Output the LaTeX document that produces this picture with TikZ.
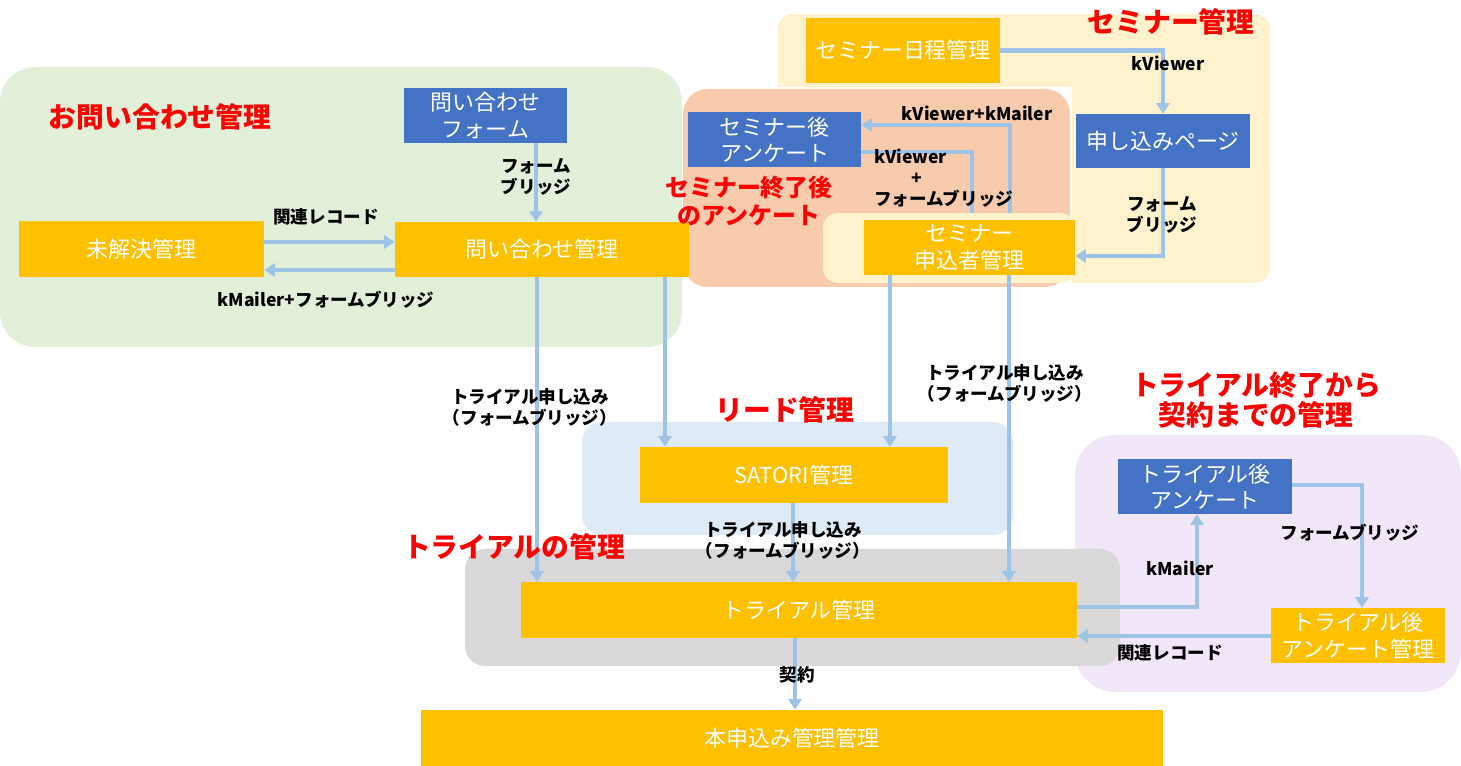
\documentclass[tikz,border=0pt]{standalone}
\usepackage{fontspec}
\setmainfont{Noto Sans CJK JP}
\usetikzlibrary{arrows.meta}

\definecolor{boxorange}{HTML}{FFC000}
\definecolor{boxblue}{HTML}{4472C4}
\definecolor{arrowblue}{HTML}{9DC3E6}
\definecolor{titlered}{HTML}{FF0000}
\definecolor{areagreen}{HTML}{E2F0D9}
\definecolor{areayellow}{HTML}{FFF2CC}
\definecolor{areapeach}{HTML}{F8CBAD}
\definecolor{areablue}{HTML}{DEEBF7}
\definecolor{areagray}{HTML}{D9D9D9}
\definecolor{areaviolet}{HTML}{F2E6F9}

\begin{document}
\begin{tikzpicture}[x=0.02cm, y=-0.02cm, >={Triangle[width=7.5pt,length=6pt]},
    obox/.style={fill=boxorange, text=white, inner sep=0pt, align=center, font=\fontsize{12.5}{15}\selectfont},
    bbox/.style={obox, fill=boxblue},
    lbl/.style={font=\bfseries\fontsize{10}{12}\selectfont, align=center},
    ttl/.style={text=titlered, font=\bfseries\fontsize{15.8}{16}\selectfont, align=center},
    arr/.style={->, line width=2.7pt, draw=arrowblue},
    link/.style={line width=2.7pt, draw=arrowblue}]
      \path[use as bounding box] (0,0) rectangle (1461,766);

      % areas
      \fill[areagreen, rounded corners=0.7cm] (0,67) rectangle (682,347);
      \fill[areayellow, rounded corners=0.3cm] (778,14) rectangle (1270,283);
      \fill[white] (683,87) rectangle (1072,287);
      \fill[areapeach, rounded corners=0.5cm] (683,89) rectangle (1070,287);
      \fill[areablue, rounded corners=0.4cm] (582,422) rectangle (1013,535);
      \fill[areaviolet, rounded corners=0.8cm] (1075,435) rectangle (1461,692);
      \fill[areagray, rounded corners=0.4cm] (465,549) rectangle (1120,666);
      \node[fill=areayellow, rounded corners=0.3cm, inner sep=0pt, minimum width=5.04cm, minimum height=1.4cm] (applzone) at (949,248) {};

      % boxes
      \node[bbox, minimum width=3.26cm, minimum height=1.1cm] (form) at (485.5,115.5) {問い合わせ\\フォーム};
      \node[obox, minimum width=4.9cm, minimum height=1.12cm] (open) at (141.5,249) {未解決管理};
      \node[obox, minimum width=5.88cm, minimum height=1.1cm] (inquiry) at (542,249.5) {問い合わせ管理};
      \node[obox, minimum width=3.88cm, minimum height=1.3cm] (schedule) at (903,50.5) {セミナー日程管理};
      \node[bbox, minimum width=3.48cm, minimum height=1.08cm] (entry) at (1163,141) {申し込みページ};
      \node[bbox, minimum width=3.46cm, minimum height=1.1cm] (survey) at (774.5,139.5) {セミナー後\\アンケート};
      \node[obox, minimum width=4.22cm, minimum height=1.1cm] (applicant) at (969.5,247.5) {セミナー\\申込者管理};
      \node[obox, minimum width=6.16cm, minimum height=1.12cm] (satori) at (794,475) {SATORI管理};
      \node[obox, minimum width=11.12cm, minimum height=1.12cm] (trial) at (799,610) {トライアル管理};
      \node[obox, minimum width=14.84cm, minimum height=1.12cm] (contract) at (792,738) {本申込み管理管理};
      \node[bbox, minimum width=3.48cm, minimum height=1.1cm] (tsurvey) at (1205,486.5) {トライアル後\\アンケート};
      \node[obox, minimum width=3.48cm, minimum height=1.1cm] (tresult) at (1358,635.5) {トライアル後\\アンケート管理};

      % connectors
      \draw[arr] (form.south -| 536,0) -- (inquiry.north -| 536,0);
      \draw[arr] (open.east |- 0,242) -- (inquiry.west |- 0,242);
      \draw[arr] (inquiry.west |- 0,270) -- (open.east |- 0,270);
      \draw[arr] (inquiry.south -| 537,0) -- (trial.north -| 537,0);
      \draw[arr] (inquiry.south -| 665,0) -- (satori.north -| 665,0);
      \draw[arr] (applicant.south -| 890,0) -- (satori.north -| 890,0);
      \draw[arr] (applicant.south -| 1009,0) -- (trial.north -| 1009,0);
      \draw[arr] (satori.south -| 793,0) -- (trial.north -| 793,0);
      \draw[arr] (trial.south -| 795,0) -- (contract.north -| 795,0);
      \draw[arr] (schedule.east) -| (entry.north);
      \draw[arr] (entry.south) |- (applicant.east |- 0,256);
      \draw[arr] (applzone.north -| 1010,0) |- (survey.east |- 0,125);
      \draw[link] (survey.east |- 0,152) -| (applzone.north -| 972,0);
      \draw[arr] (trial.east |- 0,607) -| (tsurvey.south -| 1197,0);
      \draw[arr] (tsurvey.east |- 0,485) -| (tresult.north -| 1362,0);
      \draw[arr] (tresult.west |- 0,636) -- (trial.east |- 0,636);

      % labels
      \node[lbl] (l1) at (536,177) {フォーム\\ブリッジ};
      \node[lbl] (l2) at (326,217) {関連レコード};
      \node[lbl] (l3) at (326,300) {kMailer+フォームブリッジ};
      \node[lbl] (l4) at (1168,63) {kViewer};
      \node[lbl] (l5) at (1162,215) {フォーム\\ブリッジ};
      \node[lbl] (l6) at (977,113) {kViewer+kMailer};
      \node[lbl, align=left, anchor=west] (l7) at (868,178) {kViewer\\\hspace*{2.1em}+\\フォームブリッジ};
      \node[lbl] (l8) at (530,407) {トライアル申し込み\\（フォームブリッジ）};
      \node[lbl] (l9) at (1005,383) {トライアル申し込み\\（フォームブリッジ）};
      \node[lbl] (l10) at (783,540) {トライアル申し込み\\（フォームブリッジ）};
      \node[lbl] (l11) at (797,675) {契約};
      \node[lbl] (l12) at (1180,568) {kMailer};
      \node[lbl] (l13) at (1350,533) {フォームブリッジ};
      \node[lbl] (l14) at (1170,653) {関連レコード};

      % titles
      \node[ttl] (t1) at (160,117) {お問い合わせ管理};
      \node[ttl] (t2) at (1171,22) {セミナー管理};
      \node[ttl, font=\bfseries\fontsize{13.6}{15.4}\selectfont] (t3) at (749,201) {セミナー終了後\\のアンケート};
      \node[ttl] (t4) at (785,410) {リード管理};
      \node[ttl] (t5) at (514,547) {トライアルの管理};
      \node[ttl, font=\bfseries\fontsize{15.8}{17}\selectfont] (t6) at (1256,400) {トライアル終了から\\契約までの管理};
\end{tikzpicture}
\end{document}
